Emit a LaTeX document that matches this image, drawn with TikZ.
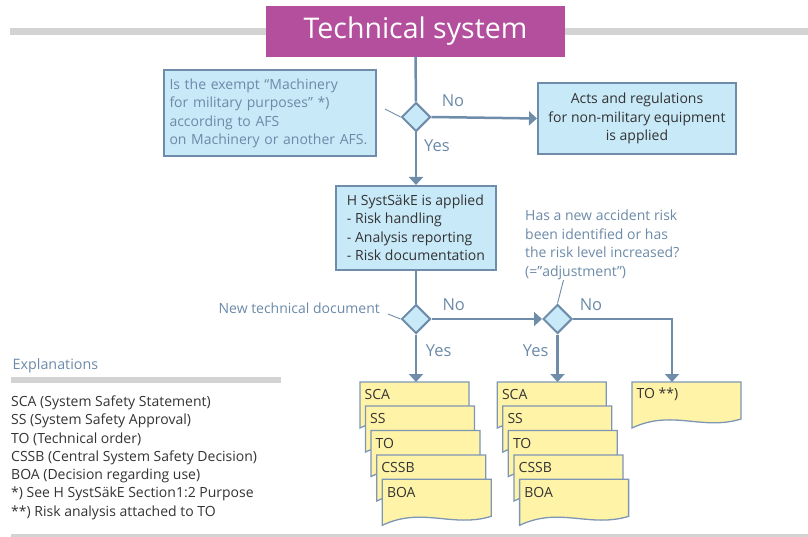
\documentclass[tikz,border=0pt]{standalone}
\usepackage{fontspec}
\setmainfont{Open Sans}
\usetikzlibrary{shapes.geometric}
\usetikzlibrary{arrows.meta}
\tikzset{>={Triangle[width=14pt,length=8pt]}}

\definecolor{flowline}{RGB}{111,141,171}
\definecolor{flownote}{RGB}{108,138,168}
\definecolor{boxfill}{RGB}{200,233,248}
\definecolor{docfill}{RGB}{255,243,168}
\definecolor{docline}{RGB}{125,150,180}
\definecolor{barcol}{RGB}{211,211,211}
\definecolor{titlecol}{RGB}{179,79,157}
\definecolor{bodytext}{RGB}{51,51,51}

\tikzset{
  bluebox/.style={draw=flowline, line width=2pt, fill=boxfill, inner sep=0pt,
    text=bodytext, font=\fontsize{14}{18.5}\selectfont},
  decision/.style={diamond, aspect=1, draw=flowline, line width=2pt, fill=boxfill,
    minimum width=29pt, minimum height=29pt, inner sep=0pt},
  flow/.style={draw=flowline, line width=2.5pt},
  note/.style={text=flownote, font=\fontsize{14}{18.5}\selectfont, align=left, inner sep=0pt},
  notelink/.style={draw=flowline, line width=0.9pt},
  answer/.style={text=flownote, font=\fontsize{16.5}{18}\selectfont, inner sep=0pt},
  docframe/.style={draw=docline, line width=1.3pt, fill=docfill},
  doctext/.style={text=bodytext, font=\fontsize{14}{15}\selectfont, inner sep=0pt, anchor=west},
  legend/.style={text=bodytext, font=\fontsize{14}{18.3}\selectfont, align=left, inner sep=0pt},
}

% document page with wavy lower edge: name, top left corner, text
\newcommand{\docpage}[3]{%
  \begin{scope}[shift={(#2)}]
    \filldraw[docframe] (0,0) -- (109,0) -- (109,37)
      .. controls (70,49) and (40,27) .. (0,46) -- cycle;
    \node[inner sep=0pt, minimum width=109pt, minimum height=46pt, anchor=north west] (#1) at (0,0) {};
    \node[doctext] (#1-t) at (4.5,12.7) {#3};
  \end{scope}}

\begin{document}
\begin{tikzpicture}[x=1pt,y=-1pt]
  \useasboundingbox (0,0) rectangle (808,537);

  % grey rules
  \fill[barcol] (10,28) rectangle (808,35);
  \fill[barcol] (11,377) rectangle (281,383);
  \fill[barcol] (11,534) rectangle (808,536.5);

  % coordinates
  \coordinate (exempt-end) at (385,109);
  \coordinate (newdoc-end) at (388,314);
  \coordinate (adjust-end) at (563.5,280);
  \coordinate (turn) at (672,319);

  % boxes
  \node[fill=titlecol, minimum width=299pt, minimum height=51pt, inner sep=0pt,
    text=white, font=\fontsize{28.5}{30}\selectfont] (title) at (415.5,31.3) {Technical system};
  \node[bluebox, text=flownote, text width=201pt, align=left, inner xsep=5.5pt,
    minimum height=86pt] (exempt) at (270,113.3)
    {Is the exempt “Machinery\\for military purposes” *)\\according to AFS\\on Machinery or another AFS.};
  \node[bluebox, align=center, minimum width=198pt, minimum height=71pt] (acts) at (637,118.5)
    {Acts and regulations\\for non-military equipment\\is applied};
  \node[bluebox, align=left, minimum width=160pt, minimum height=84pt] (systsake) at (416,228)
    {H SystSäkE is applied\\- Risk handling\\- Analysis reporting\\- Risk documentation};

  % decisions
  \node[decision] (d1) at (416,117) {};
  \node[decision] (d2) at (416,319) {};
  \node[decision] (d3) at (557.5,319) {};

  % notes
  \node[note, anchor=east] (newdoc) at (380,308) {New technical document};
  \node[note, anchor=west] (adjust) at (525,244.7)
    {Has a new accident risk\\been identified or has\\the risk level increased?\\(=”adjustment”)};

  % documents
  \docpage{sca1}{360,382}{SCA}
  \docpage{ss1}{365.5,406}{SS}
  \docpage{to1}{371,430.5}{TO}
  \docpage{cssb1}{376.7,455}{CSSB}
  \docpage{boa1}{382.3,479.3}{BOA}
  \docpage{sca2}{497.3,382}{SCA}
  \docpage{ss2}{502.8,406}{SS}
  \docpage{to2}{508.3,430.5}{TO}
  \docpage{cssb2}{514,455}{CSSB}
  \docpage{boa2}{519.6,479.3}{BOA}
  \docpage{tonote}{632,382}{TO **)}

  % connectors
  \draw[flow] (title.south) -- (d1.north);
  \draw[flow,->] (d1.south) -- (systsake.north);
  \draw[flow,->] (d1.east) -- (acts.west);
  \draw[flow] (systsake.south) -- (d2.north);
  \draw[flow,->] (d2.east) -- (d3.west);
  \draw[flow,->] (d2.south) -- (d2.south |- sca1.north);
  \draw[flow,->] (d3.south) -- (d3.south |- sca2.north);
  \draw[flow,->] (d3.east) -- (turn) -- (turn |- tonote.north);
  \draw[notelink] (exempt-end) -- (d1.west);
  \draw[notelink] (newdoc-end) -- (d2.west);
  \draw[notelink] (adjust-end) -- (d3.north);

  % answers
  \node[answer] (no1) at (453,101) {No};
  \node[answer] (yes1) at (437,146) {Yes};
  \node[answer] (no2) at (453.7,305) {No};
  \node[answer] (yes2) at (438.7,351) {Yes};
  \node[answer] (no3) at (591,305) {No};
  \node[answer] (yes3) at (535.7,351) {Yes};

  % explanations
  \node[text=flownote, font=\fontsize{14.3}{16}\selectfont, inner sep=0pt, anchor=west]
    (explain) at (12.5,366) {Explanations};
  \node[legend, anchor=west] (legendtext) at (11,457.7)
    {SCA (System Safety Statement)\\SS (System Safety Approval)\\TO (Technical order)\\%
     CSSB (Central System Safety Decision)\\BOA (Decision regarding use)\\%
     *) See H SystSäkE Section1:2 Purpose\\**) Risk analysis attached to TO};
\end{tikzpicture}
\end{document}
